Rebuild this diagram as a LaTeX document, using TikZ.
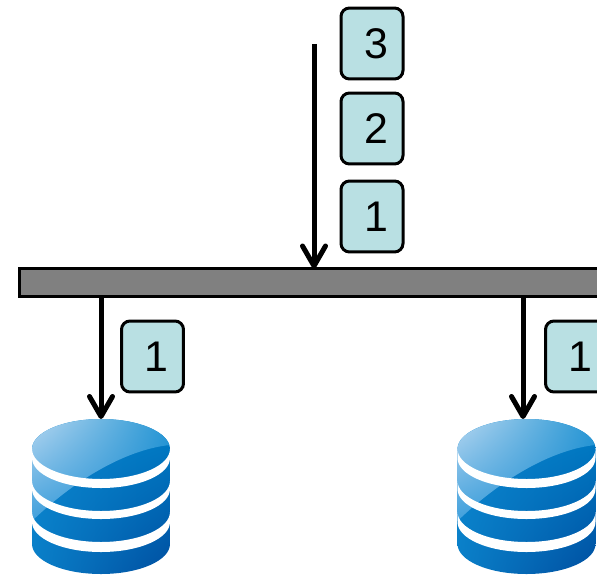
\documentclass[tikz,border=0pt]{standalone}
\usepackage{fontspec}
\setmainfont{Liberation Sans}
\usetikzlibrary{arrows.meta,shadings}
\definecolor{boxfill}{HTML}{B9E0E3}
\definecolor{bodyul}{HTML}{0A86CF}
\definecolor{bodyur}{HTML}{0080C8}
\definecolor{bodyll}{HTML}{0A7FC8}
\definecolor{bodylr}{HTML}{004EA0}
\definecolor{glossul}{HTML}{B4D6F0}
\definecolor{glossur}{HTML}{2696D4}
\definecolor{glossll}{HTML}{40A0DC}
\definecolor{glosslr}{HTML}{1E8CD2}
\begin{document}
\begin{tikzpicture}[x=0.02cm,y=0.02cm,
    >={Straight Barb[length=0.4cm,width=0.46cm,round]},
    msg/.style={draw=black,fill=boxfill,line width=0.06cm,rounded corners=0.17cm,
        minimum width=1.24cm,minimum height=1.42cm,inner sep=0,
        execute at begin node=\hspace{0.16cm},
        font=\fontsize{24.4}{28}\selectfont},
    busbar/.style={draw=black,fill=black!50,line width=0.06cm,
        minimum width=12.42cm,minimum height=0.56cm,inner sep=0,outer sep=0},
    flow/.style={->,line width=0.1cm},
    dbase/.pic={
        \coordinate (-top) at (0,30);
        \begin{scope}
            \clip (-69,0) arc[start angle=180,end angle=0,x radius=69,y radius=30]
                -- (69,-95) arc[start angle=0,end angle=-180,x radius=69,y radius=30] -- cycle;
            \shade[upper left=bodyul,upper right=bodyur,lower left=bodyll,lower right=bodylr]
                (-69,-125) rectangle (69,30);
            % gloss
            \shade[upper left=glossul,upper right=glossur,lower left=glossll,lower right=glosslr]
                (-69,30) -- (69,30) -- (69,4)
                .. controls (30,0) and (-20,-25) .. (-69,-72) -- cycle;
        \end{scope}
        \fill[white] (-69,0) arc[start angle=180,end angle=360,x radius=69,y radius=30]
            -- (69,-9) arc[start angle=0,end angle=-180,x radius=69,y radius=30] -- cycle;
        \fill[white] (-69,-32) arc[start angle=180,end angle=360,x radius=69,y radius=30]
            -- (69,-40) arc[start angle=0,end angle=-180,x radius=69,y radius=30] -- cycle;
        \fill[white] (-69,-63) arc[start angle=180,end angle=360,x radius=69,y radius=30]
            -- (69,-73) arc[start angle=0,end angle=-180,x radius=69,y radius=30] -- cycle;
    }]
    \clip (0,0) rectangle (597,-574);
    \node[busbar] (bar) at (329.5,-282.5) {};
    \node[msg] (m3) at (372,-43.5) {3};
    \node[msg] (m2) at (372,-128.5) {2};
    \node[msg] (m1) at (372,-216.5) {1};
    \node[msg] (ml) at (152.5,-356.5) {1};
    \node[msg] (mr) at (576.5,-356.5) {1};
    \pic (db1) at (101,-449) {dbase};
    \pic (db2) at (526.5,-449) {dbase};
    \coordinate (in) at (314,-44);
    \coordinate (db2in) at (523,-419);
    \draw[flow] (in) -- (in |- bar.north);
    \draw[flow] (db1-top |- bar.south) -- (db1-top);
    \draw[flow] (db2in |- bar.south) -- (db2in);
\end{tikzpicture}
\end{document}
